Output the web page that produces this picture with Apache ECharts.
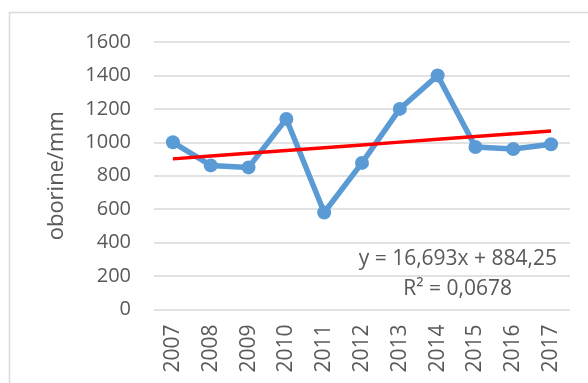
<!DOCTYPE html>
<html>
<head>
<meta charset="utf-8">
<script src="https://cdn.jsdelivr.net/npm/echarts@6/dist/echarts.min.js"></script>
<style>
  html, body { margin: 0; padding: 0; background: #ffffff; }
  #chart { width: 588px; height: 383px; }
</style>
</head>
<body>
<div id="chart"></div>
<script>
// Annual precipitation, 2007–2017
const years = ['2007', '2008', '2009', '2010', '2011', '2012', '2013', '2014', '2015', '2016', '2017'];
const precipitation = [1000, 862, 850, 1140, 580, 877, 1200, 1400, 972, 960, 988];

// Linear trend as stated on the chart: y = slope * x + intercept, x = 1..n
const trendSlope = 16.693;
const trendIntercept = 884.25;
const trendLabel = 'y = 16,693x + 884,25';
const r2Label = 'R² = 0,0678';

const yTicks = { min: 0, max: 1600, interval: 200 };
const yAxisName = 'oborine/mm';

const trendValues = years.map((_, i) => trendSlope * (i + 1) + trendIntercept);

const FONT = '"Open Sans", "Liberation Sans", sans-serif';
const TEXT = '#595959';
const GRID = '#d9d9d9';

const chart = echarts.init(document.getElementById('chart'), null, { renderer: 'canvas' });
chart.setOption({
  animation: false,
  backgroundColor: '#ffffff',
  grid: { left: 154, right: 18, top: 42, bottom: 73.5, containLabel: false },
  xAxis: {
    type: 'category',
    data: years,
    boundaryGap: true,
    axisLine: { show: false },
    axisTick: { show: false },
    axisLabel: { rotate: 90, margin: 15, color: TEXT, fontSize: 21, fontFamily: FONT }
  },
  yAxis: {
    type: 'value',
    min: yTicks.min,
    max: yTicks.max,
    interval: yTicks.interval,
    name: yAxisName,
    nameLocation: 'middle',
    nameGap: 86,
    nameRotate: 90,
    nameTextStyle: { color: TEXT, fontSize: 22, fontFamily: FONT },
    axisLine: { show: false },
    axisTick: { show: false },
    axisLabel: { margin: 23, color: TEXT, fontSize: 20, fontFamily: FONT, formatter: v => String(v) },
    splitLine: { lineStyle: { color: GRID, width: 1.5 } }
  },
  series: [
    {
      name: 'oborine',
      type: 'line',
      data: precipitation,
      symbol: 'circle',
      symbolSize: 14,
      lineStyle: { color: '#5b9bd5', width: 5.5 },
      itemStyle: { color: '#5b9bd5' },
      z: 2
    },
    {
      name: 'trend',
      type: 'line',
      data: trendValues,
      symbol: 'none',
      lineStyle: { color: '#ff0000', width: 3.5 },
      z: 3
    }
  ],
  graphic: [
    {
      type: 'rect',
      silent: true,
      shape: { x: 9.5, y: 12.5, width: 620, height: 420 },
      style: { fill: 'none', stroke: GRID, lineWidth: 1.5 },
      z: -10
    },
    {
      type: 'text',
      right: 31,
      top: 249,
      style: { text: trendLabel, fill: TEXT, font: '21px ' + FONT, textAlign: 'right' },
      z: 10
    },
    {
      type: 'text',
      right: 76,
      top: 279,
      style: { text: r2Label, fill: TEXT, font: '21px ' + FONT, textAlign: 'right' },
      z: 10
    }
  ]
});
</script>
</body>
</html>
